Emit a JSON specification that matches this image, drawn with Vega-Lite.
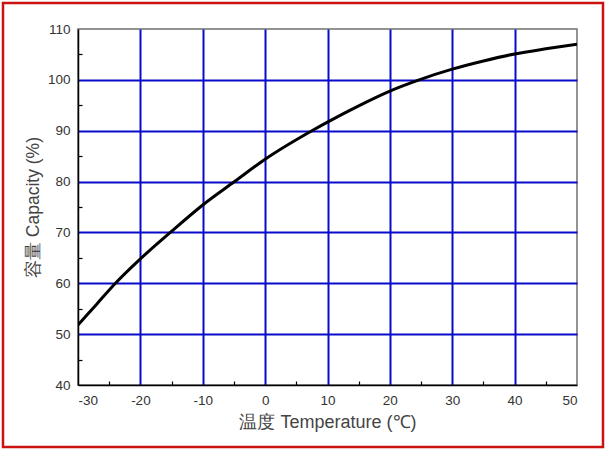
{
  "$schema": "https://vega.github.io/schema/vega-lite/v6.json",
  "width": 499,
  "height": 356,
  "autosize": {"type": "none"},
  "padding": {"left": 78, "top": 29, "right": 30, "bottom": 67},
  "background": "white",
  "config": {
    "font": "Liberation Sans",
    "view": {"stroke": "#707070", "strokeWidth": 1.5}
  },
  "data": {
    "values": [
      {"t": -30, "c": 51.8},
      {"t": -27, "c": 55.9},
      {"t": -24, "c": 60.0},
      {"t": -20, "c": 64.8},
      {"t": -15.2, "c": 70.0},
      {"t": -10, "c": 75.4},
      {"t": -4.9, "c": 80.0},
      {"t": 0, "c": 84.4},
      {"t": 7.5, "c": 90.0},
      {"t": 10, "c": 91.7},
      {"t": 15, "c": 94.9},
      {"t": 20, "c": 97.8},
      {"t": 24.7, "c": 100.0},
      {"t": 30, "c": 102.1},
      {"t": 35, "c": 103.7},
      {"t": 40, "c": 105.1},
      {"t": 45, "c": 106.1},
      {"t": 50, "c": 107.0}
    ]
  },
  "layer": [
    {
      "mark": {"type": "line", "color": "black", "strokeWidth": 3, "interpolate": "monotone", "clip": true},
      "encoding": {
        "x": {
          "field": "t", "type": "quantitative",
          "scale": {"domain": [-30, 50], "nice": false, "zero": false},
          "axis": {
            "values": [-30, -25, -20, -15, -10, -5, 0, 5, 10, 15, 20, 25, 30, 35, 40, 45, 50],
            "labelExpr": "datum.value % 10 == 0 ? toString(datum.value) : ''",
            "title": "温度 Temperature (℃)",
            "titleFont": "Liberation Sans",
            "titleFontSize": 18,
            "titleFontWeight": "normal",
            "titleColor": "#444444",
            "titlePadding": 7,
            "labelFontSize": 13.5,
            "labelColor": "#333333",
            "labelPadding": 8,
            "domainColor": "black",
            "domainWidth": 1.5,
            "tickColor": "black",
            "tickWidth": 1.2,
            "tickSize": {"condition": {"test": "datum.value % 10 != 0", "value": -4}, "value": 0},
            "grid": true,
            "gridColor": "#0a0acc",
            "gridWidth": 2,
            "gridOpacity": {"condition": {"test": "datum.value % 10 != 0 || datum.value == -30 || datum.value == 50", "value": 0}, "value": 1}
          }
        },
        "y": {
          "field": "c", "type": "quantitative",
          "scale": {"domain": [40, 110], "nice": false, "zero": false},
          "axis": {
            "values": [40, 45, 50, 55, 60, 65, 70, 75, 80, 85, 90, 95, 100, 105, 110],
            "labelExpr": "datum.value % 10 == 0 ? toString(datum.value) : ''",
            "title": "容量 Capacity (%)",
            "titleFont": "Liberation Sans",
            "titleFontSize": 17.5,
            "titleFontWeight": "normal",
            "titleColor": "#444444",
            "titlePadding": 5,
            "labelFontSize": 13.5,
            "labelColor": "#333333",
            "labelPadding": 8,
            "domainColor": "black",
            "domainWidth": 1.5,
            "tickColor": "black",
            "tickWidth": 1.2,
            "tickSize": {"condition": {"test": "datum.value % 10 != 0", "value": -4}, "value": 0},
            "grid": true,
            "gridColor": "#0a0acc",
            "gridWidth": 2,
            "gridOpacity": {"condition": {"test": "datum.value % 10 != 0 || datum.value == 40 || datum.value == 110", "value": 0}, "value": 1}
          }
        }
      }
    },
    {
      "data": {"values": [{"frame": "border"}]},
      "mark": {"type": "rect", "fill": null, "stroke": "#cc1111", "strokeWidth": 2.5, "clip": false},
      "encoding": {
        "x": {"value": -75},
        "x2": {"value": 525},
        "y": {"value": -26},
        "y2": {"value": 418}
      }
    }
  ]
}
